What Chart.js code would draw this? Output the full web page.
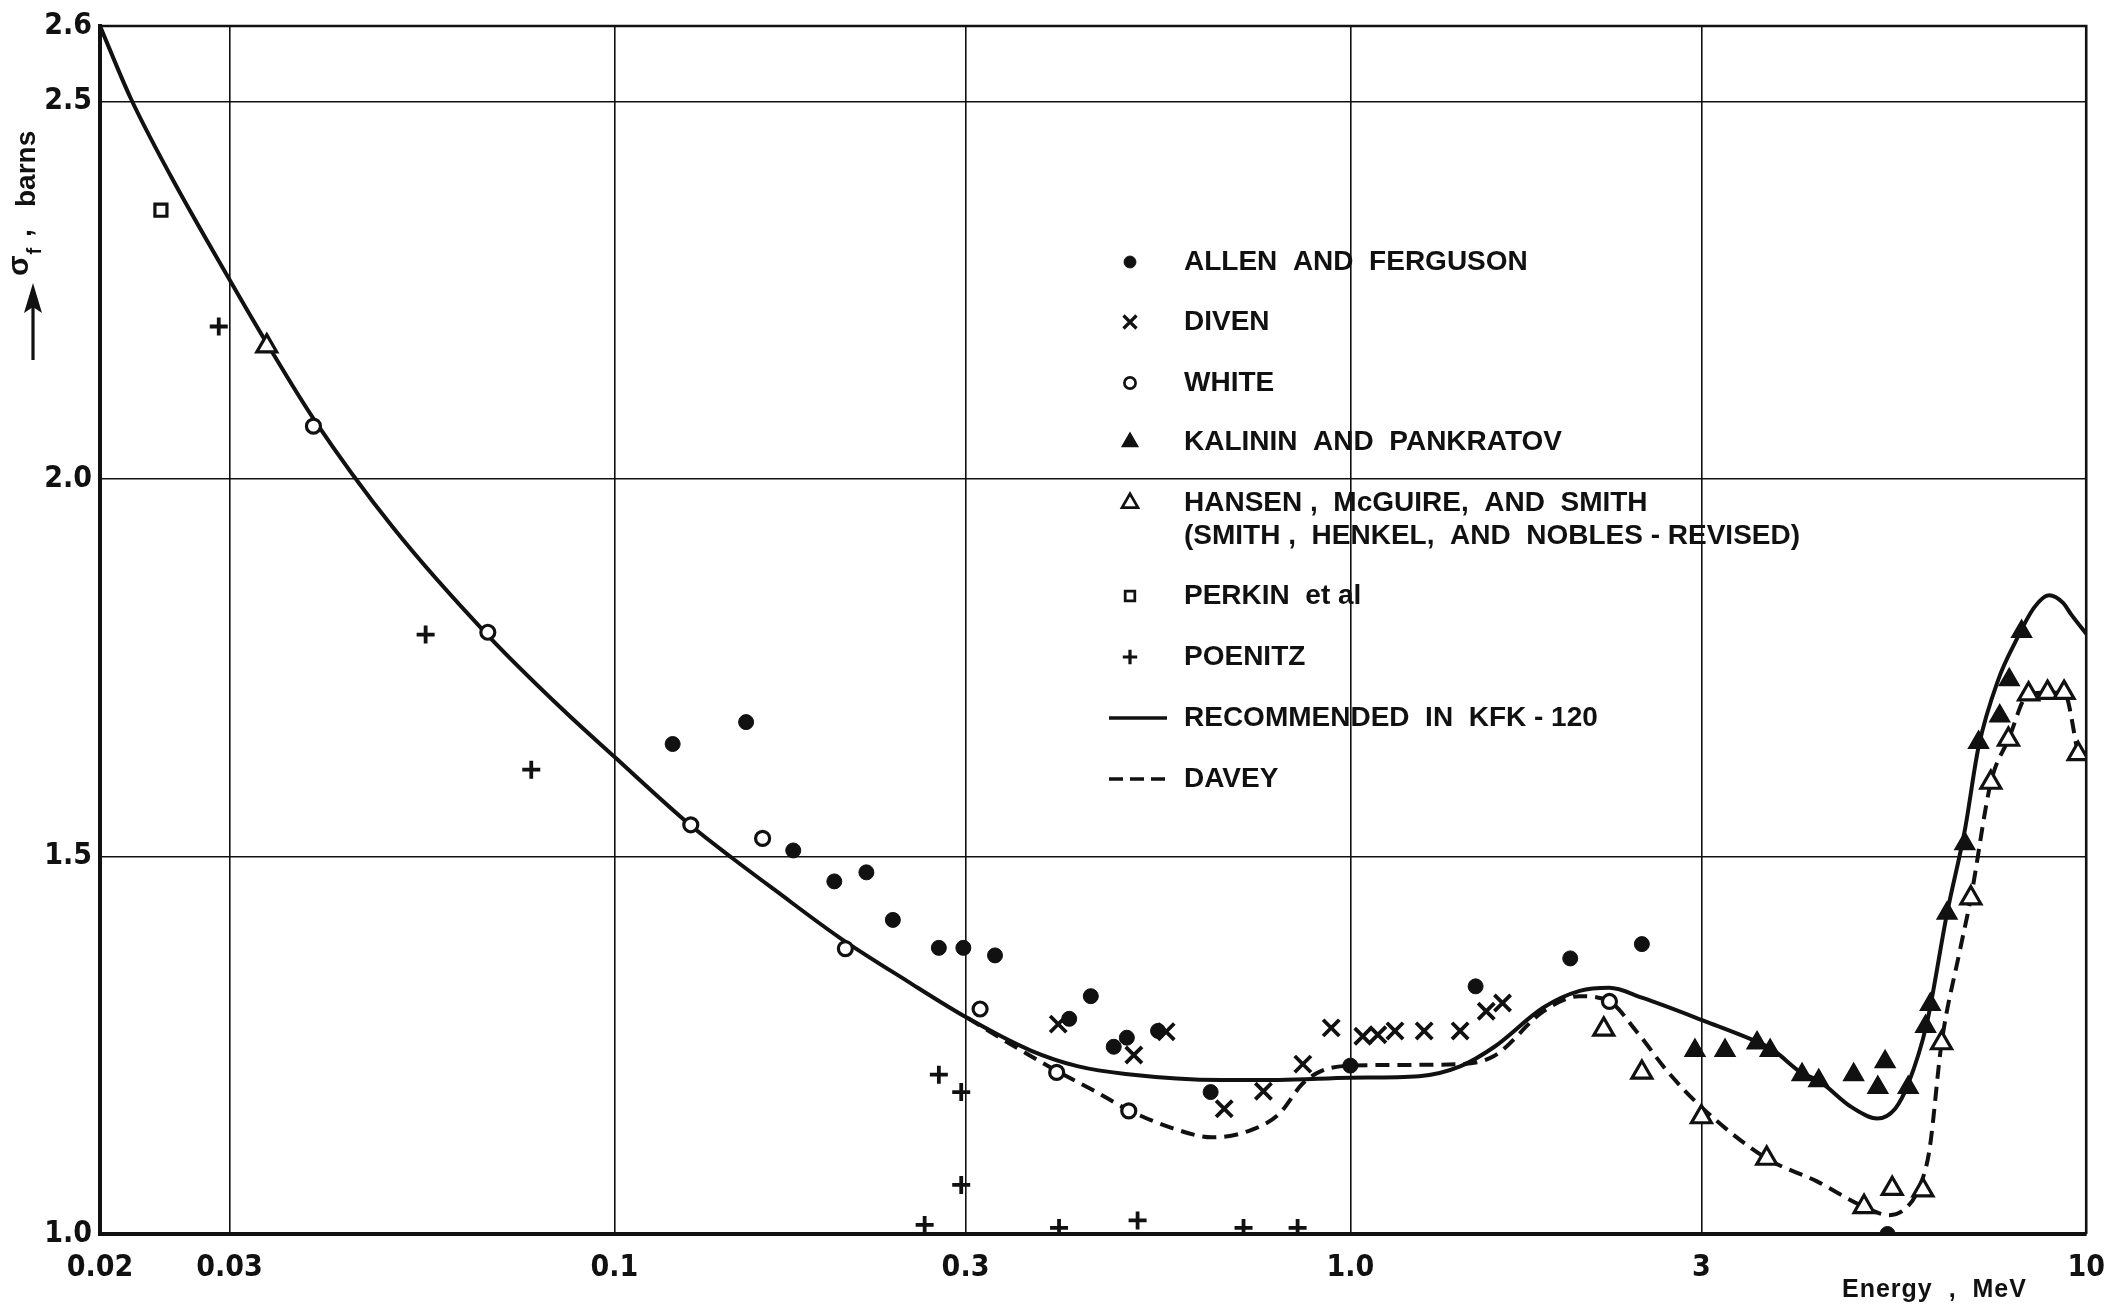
<!DOCTYPE html>
<html>
<head>
<meta charset="utf-8">
<script src="https://cdn.jsdelivr.net/npm/chart.js@4.4.1/dist/chart.umd.min.js"></script>
<style>
  html, body { margin: 0; padding: 0; background: #ffffff; }
  #wrap { width: 2121px; height: 1307px; }
</style>
</head>
<body>
<div id="wrap"><canvas id="c" width="2121" height="1307"></canvas></div>
<script>
// ---- Axis ticks ----
const xTickValues = [0.02, 0.03, 0.1, 0.3, 1.0, 3, 10];
const xTickLabels = ['0.02', '0.03', '0.1', '0.3', '1.0', '3', '10'];
const yTickValues = [1.0, 1.5, 2.0, 2.5, 2.6];
const yTickLabels = ['1.0', '1.5', '2.0', '2.5', '2.6'];

// ---- Measured fission cross sections (energy in MeV, sigma_f in barns) ----
const allenE = [0.120, 0.151, 0.175, 0.199, 0.220, 0.239, 0.276, 0.298, 0.329, 0.415, 0.444, 0.477, 0.497, 0.548, 0.646, 1.0, 1.48, 1.99, 2.49, 5.37];
const allenB = [1.649, 1.678, 1.508, 1.467, 1.479, 1.416, 1.379, 1.379, 1.369, 1.285, 1.315, 1.248, 1.260, 1.269, 1.188, 1.223, 1.328, 1.365, 1.384, 1.0];

const divenE = [0.401, 0.508, 0.562, 0.674, 0.762, 0.862, 0.942, 1.04, 1.09, 1.15, 1.26, 1.41, 1.53, 1.61];
const divenB = [1.278, 1.237, 1.268, 1.166, 1.189, 1.225, 1.273, 1.262, 1.264, 1.269, 1.269, 1.269, 1.295, 1.306];

const whiteE = [0.039, 0.0673, 0.127, 0.159, 0.206, 0.314, 0.399, 0.500, 2.25];
const whiteB = [2.070, 1.797, 1.542, 1.524, 1.378, 1.298, 1.214, 1.163, 1.308];

const kalininE = [2.94, 3.23, 3.57, 3.72, 4.11, 4.33, 4.83, 5.21, 5.33, 5.73, 6.05, 6.14, 6.47, 6.84, 7.14, 7.63, 7.86, 8.17];
const kalininB = [1.243, 1.243, 1.253, 1.243, 1.211, 1.203, 1.211, 1.194, 1.228, 1.194, 1.275, 1.304, 1.425, 1.517, 1.651, 1.686, 1.734, 1.798];

const hansenE = [0.0337, 2.21, 2.49, 3.0, 3.68, 4.99, 5.45, 6.0, 6.36, 6.97, 7.42, 7.84, 8.35, 8.86, 9.33, 9.75];
const hansenB = [2.176, 1.271, 1.214, 1.155, 1.100, 1.036, 1.060, 1.058, 1.253, 1.445, 1.598, 1.655, 1.715, 1.717, 1.717, 1.636];

const perkinE = [0.0242];
const perkinB = [2.356];

const poenitzE = [0.029, 0.0554, 0.0771, 0.264, 0.276, 0.296, 0.296, 0.402, 0.514, 0.716, 0.848];
const poenitzB = [2.202, 1.794, 1.615, 1.012, 1.211, 1.188, 1.065, 1.008, 1.018, 1.008, 1.008];

// ---- Evaluated curves ----
const kfkE = [0.02, 0.022, 0.025, 0.03, 0.0337, 0.039, 0.05, 0.0673, 0.085, 0.1, 0.127, 0.145, 0.165, 0.202, 0.25, 0.302, 0.368, 0.427, 0.495, 0.668, 0.8, 1.0, 1.24, 1.41, 1.57, 1.83, 2.05, 2.25, 2.49, 3.03, 3.6, 3.75, 4.11, 4.33, 4.8, 5.2, 5.5, 5.73, 6.07, 6.47, 6.84, 7.14, 7.6, 8.0, 8.5, 8.9, 9.3, 9.55, 10];
const kfkB = [2.600, 2.505, 2.400, 2.264, 2.180, 2.080, 1.936, 1.793, 1.695, 1.632, 1.541, 1.497, 1.456, 1.393, 1.335, 1.286, 1.243, 1.222, 1.212, 1.204, 1.204, 1.207, 1.209, 1.222, 1.248, 1.300, 1.322, 1.326, 1.313, 1.282, 1.253, 1.244, 1.213, 1.203, 1.168, 1.153, 1.166, 1.199, 1.278, 1.425, 1.535, 1.645, 1.735, 1.783, 1.830, 1.846, 1.836, 1.820, 1.795];

const daveyE = [0.302, 0.346, 0.399, 0.45, 0.5, 0.574, 0.649, 0.73, 0.80, 0.861, 0.914, 1.0, 1.2, 1.41, 1.57, 1.83, 2.05, 2.25, 2.45, 2.7, 3.0, 3.68, 4.3, 4.99, 5.4, 5.7, 5.92, 6.12, 6.36, 6.73, 6.97, 7.42, 7.84, 8.35, 8.86, 9.33, 9.75];
const daveyB = [1.286, 1.251, 1.216, 1.189, 1.164, 1.140, 1.128, 1.137, 1.159, 1.199, 1.216, 1.223, 1.224, 1.225, 1.236, 1.295, 1.315, 1.308, 1.268, 1.215, 1.168, 1.100, 1.070, 1.036, 1.025, 1.035, 1.060, 1.110, 1.253, 1.374, 1.445, 1.598, 1.655, 1.715, 1.717, 1.717, 1.636];

const pts = (xs, ys) => xs.map((x, i) => ({ x: x, y: ys[i] }));

const INK = '#111111';
const TICK_FAMILY = "'Liberation Sans Narrow', 'DejaVu Sans Condensed', 'Liberation Sans', sans-serif";
const TEXT_FAMILY = "'Liberation Sans', 'DejaVu Sans', sans-serif";

function markerSet(label, xs, ys, style, radius, fill, width) {
  return {
    label: label,
    data: pts(xs, ys),
    showLine: false,
    pointStyle: style,
    pointRadius: radius,
    pointHoverRadius: radius,
    pointBackgroundColor: fill,
    pointBorderColor: INK,
    pointBorderWidth: width,
    order: 1
  };
}

function curveSet(label, xs, ys, dash) {
  return {
    label: label,
    data: pts(xs, ys),
    showLine: true,
    borderColor: INK,
    borderWidth: 4,
    borderDash: dash,
    borderCapStyle: 'butt',
    pointRadius: 0,
    pointHoverRadius: 0,
    cubicInterpolationMode: 'monotone',
    fill: false,
    order: 2
  };
}

const datasets = [
  markerSet('ALLEN  AND  FERGUSON', allenE, allenB, 'circle', 7.5, INK, 1),
  markerSet('DIVEN', divenE, divenB, 'crossRot', 11.5, INK, 3.8),
  markerSet('WHITE', whiteE, whiteB, 'circle', 7, '#ffffff', 3.2),
  markerSet('KALININ  AND  PANKRATOV', kalininE, kalininB, 'triangle', 11.5, INK, 1.5),
  markerSet('HANSEN ,  McGUIRE,  AND  SMITH', hansenE, hansenB, 'triangle', 11.5, '#ffffff', 3.2),
  markerSet('PERKIN  et al', perkinE, perkinB, 'rect', 8.5, '#ffffff', 3.2),
  markerSet('POENITZ', poenitzE, poenitzB, 'cross', 9, INK, 3.8),
  curveSet('RECOMMENDED  IN  KFK - 120', kfkE, kfkB, []),
  curveSet('DAVEY', daveyE, daveyB, [14, 8])
];

// Legend rows: which dataset, text lines
const legendRows = [
  { ds: 0, text: ['ALLEN  AND  FERGUSON'] },
  { ds: 1, text: ['DIVEN'] },
  { ds: 2, text: ['WHITE'] },
  { ds: 3, text: ['KALININ  AND  PANKRATOV'] },
  { ds: 4, text: ['HANSEN ,  McGUIRE,  AND  SMITH', '(SMITH ,  HENKEL,  AND  NOBLES - REVISED)'] },
  { ds: 5, text: ['PERKIN  et al'] },
  { ds: 6, text: ['POENITZ'] },
  { ds: 7, text: ['RECOMMENDED  IN  KFK - 120'] },
  { ds: 8, text: ['DAVEY'] }
];
const legendRowY = [262, 322, 383, 442, 503, 596, 657, 718, 779];

const legendPlugin = {
  id: 'keyBox',
  afterDraw(chart) {
    const ctx = chart.ctx;
    ctx.save();
    ctx.font = 'bold 28px ' + TEXT_FAMILY;
    ctx.textBaseline = 'middle';
    ctx.textAlign = 'left';
    legendRows.forEach((row, i) => {
      const ds = chart.data.datasets[row.ds];
      const y = legendRowY[i];
      const mx = 1130;
      ctx.fillStyle = INK;
      ctx.strokeStyle = INK;
      if (ds.showLine) {
        ctx.lineWidth = 3.4;
        ctx.setLineDash(ds.borderDash.length ? [14, 7] : []);
        ctx.beginPath();
        ctx.moveTo(1109, y);
        ctx.lineTo(1167, y);
        ctx.stroke();
        ctx.setLineDash([]);
      } else {
        ctx.lineWidth = ds.pointBorderWidth * 0.85;
        ctx.fillStyle = ds.pointBackgroundColor;
        Chart.helpers.drawPoint(ctx, {
          pointStyle: ds.pointStyle,
          radius: ds.pointRadius * 0.8,
          rotation: 0,
          borderWidth: ds.pointBorderWidth * 0.85
        }, mx, y);
      }
      ctx.fillStyle = INK;
      row.text.forEach((t, k) => {
        ctx.fillText(t, 1184, y + k * 33);
      });
    });
    ctx.restore();
  }
};

const titlesPlugin = {
  id: 'axisTitles',
  afterDraw(chart) {
    const ctx = chart.ctx;
    const area = chart.chartArea;
    ctx.save();
    ctx.fillStyle = INK;
    ctx.strokeStyle = INK;

    // top and right frame edges
    ctx.lineWidth = 2.6;
    ctx.beginPath();
    ctx.moveTo(area.left, area.top);
    ctx.lineTo(area.right, area.top);
    ctx.lineTo(area.right, area.bottom);
    ctx.stroke();

    // vertical title: arrow, sigma_f , barns (reads bottom to top)
    ctx.save();
    ctx.translate(26, 362);
    ctx.rotate(-Math.PI / 2);
    ctx.lineWidth = 3.2;
    ctx.beginPath();
    ctx.moveTo(2, 7);
    ctx.lineTo(56, 7);
    ctx.stroke();
    ctx.beginPath();
    ctx.moveTo(79, 7);
    ctx.lineTo(49, -2);
    ctx.lineTo(55, 7);
    ctx.lineTo(49, 16);
    ctx.closePath();
    ctx.fill();
    ctx.textBaseline = 'alphabetic';
    ctx.textAlign = 'left';
    ctx.font = 'bold 30px ' + TEXT_FAMILY;
    ctx.fillText('\u03C3', 86, 2);
    const sw = ctx.measureText('\u03C3').width;
    ctx.font = 'bold 20px ' + TEXT_FAMILY;
    ctx.fillText('f', 86 + sw + 1, 15);
    ctx.font = 'bold 28px ' + TEXT_FAMILY;
    ctx.fillText(',', 125, 5);
    ctx.fillText('barns', 155, 9);
    ctx.restore();

    // horizontal title
    ctx.font = 'bold 25px ' + TEXT_FAMILY;
    ctx.textBaseline = 'alphabetic';
    ctx.textAlign = 'left';
    if ('letterSpacing' in ctx) ctx.letterSpacing = '1px';
    ctx.fillText('Energy  ,  MeV', 1842, 1297);
    ctx.restore();
  }
};

const whiteBg = {
  id: 'paper',
  beforeDraw(chart) {
    const ctx = chart.ctx;
    ctx.save();
    ctx.fillStyle = '#ffffff';
    ctx.fillRect(0, 0, chart.width, chart.height);
    ctx.restore();
  }
};

new Chart(document.getElementById('c'), {
  type: 'scatter',
  data: { datasets: datasets },
  options: {
    responsive: false,
    animation: false,
    devicePixelRatio: 1,
    layout: { padding: { left: 0, right: 33, top: 20, bottom: 0 } },
    plugins: {
      legend: { display: false },
      tooltip: { enabled: false },
      title: { display: false }
    },
    scales: {
      x: {
        type: 'logarithmic',
        min: 0.02,
        max: 10,
        afterBuildTicks: (s) => { s.ticks = xTickValues.map(v => ({ value: v })); },
        afterFit: (s) => { s.height = 73; },
        ticks: {
          autoSkip: false,
          maxRotation: 0,
          minRotation: 0,
          padding: 16,
          color: INK,
          font: { family: TICK_FAMILY, size: 30, weight: 'bold' },
          callback: (v, i) => xTickLabels[i]
        },
        grid: { color: INK, lineWidth: 1.6, drawTicks: false },
        border: { display: true, color: INK, width: 4 }
      },
      y: {
        type: 'linear',
        min: 1.0,
        max: 2.6,
        afterBuildTicks: (s) => { s.ticks = yTickValues.map(v => ({ value: v })); },
        afterFit: (s) => { s.width = 100; },
        ticks: {
          padding: 8,
          color: INK,
          font: { family: TICK_FAMILY, size: 30, weight: 'bold' },
          callback: (v, i) => yTickLabels[i]
        },
        grid: { color: INK, lineWidth: 1.6, drawTicks: false },
        border: { display: true, color: INK, width: 4 }
      }
    }
  },
  plugins: [whiteBg, legendPlugin, titlesPlugin]
});
</script>
</body>
</html>
